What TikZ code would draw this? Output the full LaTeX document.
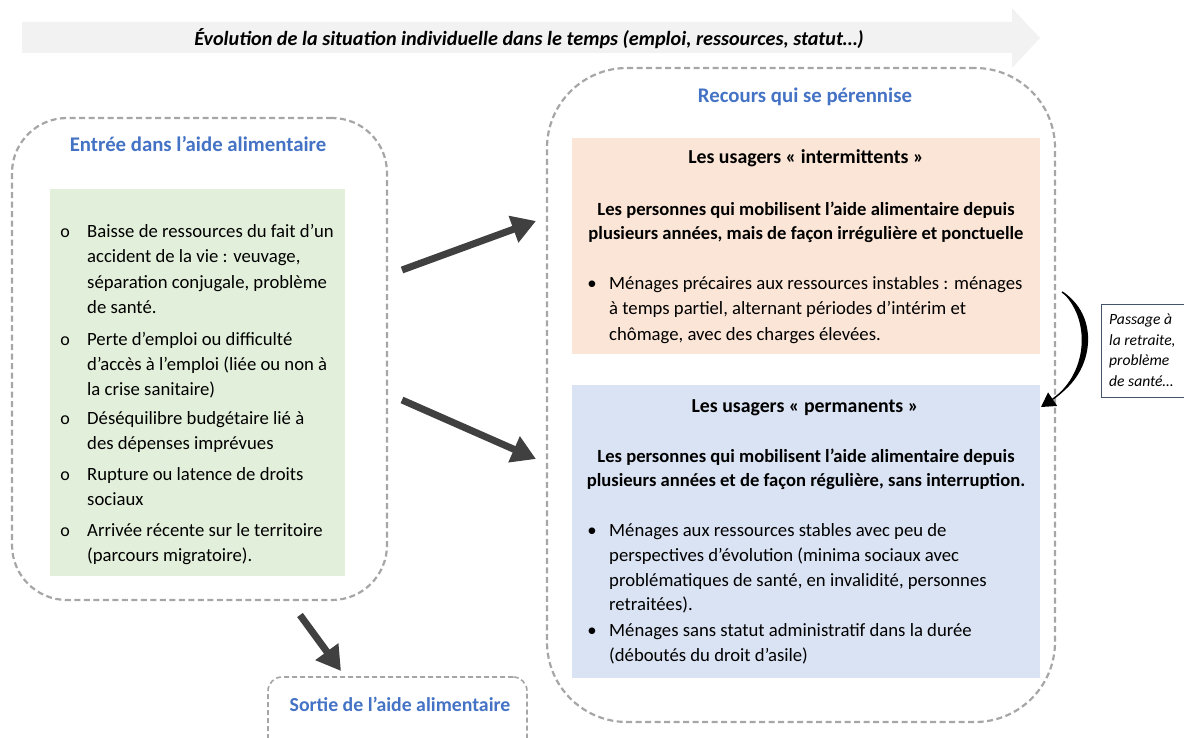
\documentclass[tikz,border=0pt]{standalone}
\usepackage{fontspec}
\setmainfont{Carlito}
\usetikzlibrary{arrows.meta}
\definecolor{dashgray}{HTML}{A6A6A6}
\definecolor{titleblue}{HTML}{4472C4}
\definecolor{greenfill}{HTML}{E2EFDA}
\definecolor{orangefill}{HTML}{FBE5D6}
\definecolor{bluefill}{HTML}{DAE3F3}
\definecolor{bandgray}{HTML}{F2F2F2}
\definecolor{arrowgray}{HTML}{404040}
\definecolor{notebord}{HTML}{44546A}
\tikzset{
  dbox/.style={draw=dashgray, line width=2.2pt, dash pattern=on 6pt off 3.5pt, rectangle, inner sep=0},
  fbox/.style={rectangle, draw=none, inner sep=0},
  body/.style={inner sep=0, font=\fontsize{18.7}{25}\selectfont},
  bodyb/.style={inner sep=0, font=\fontsize{18.6}{25}\selectfont\bfseries},
  boxttl/.style={inner sep=0, font=\fontsize{19.8}{25}\selectfont\bfseries},
  ttl/.style={inner sep=0, text=titleblue, font=\fontsize{20.8}{24}\selectfont\bfseries},
  bigarrow/.style={draw=arrowgray, line width=7pt, -{Triangle[length=24pt,width=27pt]}},
  notetxt/.style={inner sep=0, font=\fontsize{15.6}{20}\selectfont\itshape},
}
\begin{document}
\begin{tikzpicture}[x=1pt,y=-1pt]
\useasboundingbox (0,0) rectangle (1184,738);
% top band arrow
\fill[bandgray] (22,22) -- (1012,22) -- (1012,8) -- (1040,38) -- (1012,68) -- (1012,53) -- (22,53) -- cycle;
\node[inner sep=0, font=\fontsize{20.2}{22}\selectfont\bfseries\itshape, anchor=base] (band) at (529,46) {Évolution de la situation individuelle dans le temps (emploi, ressources, statut…)};

% left
\node[dbox, rounded corners=55pt, minimum width=375pt, minimum height=482pt] (entree) at (199.5,359) {};
\node[ttl, anchor=base] (entreet) at (198,152) {Entrée dans l’aide alimentaire};
\node[fbox, fill=greenfill, minimum width=295pt, minimum height=387pt] (green) at (197.5,382.5) {};
\foreach \t/\y [count=\i] in {
 {Baisse de ressources du fait d’un}/238,
 {accident de la vie : veuvage,}/263,
 {séparation conjugale, problème}/288,
 {de santé.}/313,
 {Perte d’emploi ou difficulté}/345,
 {d’accès à l’emploi (liée ou non à}/370,
 {la crise sanitaire)}/395,
 {Déséquilibre budgétaire lié à}/424,
 {des dépenses imprévues}/449,
 {Rupture ou latence de droits}/480,
 {sociaux}/505,
 {Arrivée récente sur le territoire}/536,
 {(parcours migratoire).}/561}
 {\node[body, anchor=base west] (g\i) at (87,\y) {\t};}
\foreach \y [count=\i] in {238,345,424,480,536}
 {\node[inner sep=0, anchor=base, font=\fontsize{18}{20}\selectfont] (go\i) at (65,\y) {o};}

% right
\node[dbox, rounded corners=80pt, minimum width=508pt, minimum height=654pt] (recours) at (801,395) {};
\node[ttl, anchor=base] (recourst) at (805,103) {Recours qui se pérennise};

\node[fbox, fill=orangefill, minimum width=468pt, minimum height=216pt] (inter) at (806,246) {};
\node[boxttl, anchor=base] (it) at (806,164) {Les usagers « intermittents »};
\node[bodyb, anchor=base] (i1) at (806,216) {Les personnes qui mobilisent l’aide alimentaire depuis};
\node[bodyb, anchor=base] (i2) at (806,240) {plusieurs années, mais de façon irrégulière et ponctuelle};
\node[body, anchor=base] (ib) at (592,290) {•};
\node[body, anchor=base west] (i3) at (609,290) {Ménages précaires aux ressources instables : ménages};
\node[body, anchor=base west] (i4) at (609,315) {à temps partiel, alternant périodes d’intérim et};
\node[body, anchor=base west] (i5) at (609,340) {chômage, avec des charges élevées.};

\node[fbox, fill=bluefill, minimum width=468pt, minimum height=293pt] (perm) at (806,531.5) {};
\node[boxttl, anchor=base] (pt) at (805,412) {Les usagers « permanents »};
\node[bodyb, anchor=base] (p1) at (806,462) {Les personnes qui mobilisent l’aide alimentaire depuis};
\node[bodyb, anchor=base] (p2) at (806,486) {plusieurs années et de façon régulière, sans interruption.};
\node[body, anchor=base] (pb1) at (592,536) {•};
\node[body, anchor=base west] (p3) at (609,536) {Ménages aux ressources stables avec peu de};
\node[body, anchor=base west] (p4) at (609,561) {perspectives d’évolution (minima sociaux avec};
\node[body, anchor=base west] (p5) at (609,586) {problématiques de santé, en invalidité, personnes};
\node[body, anchor=base west] (p6) at (609,610) {retraitées).};
\node[body, anchor=base] (pb2) at (592,636) {•};
\node[body, anchor=base west] (p7) at (609,636) {Ménages sans statut administratif dans la durée};
\node[body, anchor=base west] (p8) at (609,661) {(déboutés du droit d’asile)};

% sortie
\node[dbox, line width=1.6pt, dash pattern=on 5pt off 3pt, rounded corners=14pt, minimum width=259pt, minimum height=80pt] (sortie) at (397.5,717) {};
\node[ttl, anchor=base, font=\fontsize{19.8}{24}\selectfont\bfseries] (sortiet) at (400,711) {Sortie de l’aide alimentaire};

% big arrows
\coordinate (a1s) at (402,270);
\coordinate (a1e) at (536,221);
\coordinate (a2s) at (402,400);
\coordinate (a2e) at (536,459);
\coordinate (a3s) at (300,615);
\coordinate (a3e) at (341,671);
\draw[bigarrow] (a1s) -- (a1e);
\draw[bigarrow] (a2s) -- (a2e);
\draw[bigarrow] (a3s) -- (a3e);

% note
\node[rectangle, draw=notebord, line width=0.8pt, fill=white, minimum width=94pt, minimum height=93pt, inner sep=0] (note) at (1148,350.5) {};
\foreach \t/\y [count=\i] in {{Passage à}/324, {la retraite,}/345, {problème}/365, {de santé…}/386}
 {\node[notetxt, anchor=base west] (n\i) at (1109,\y) {\t};}
\coordinate (c1) at (1062,292);
\coordinate (c2) at (1041,407);
\fill (c1) .. controls (1099,313) and (1097,372) .. (1054,398)
      .. controls (1089,370) and (1090,318) .. (c1) -- cycle;
\draw[line width=1.5pt, -{Triangle[length=14pt,width=16pt]}] (c1) .. controls (1094,312) and (1093,372) .. (c2);
\end{tikzpicture}
\end{document}
